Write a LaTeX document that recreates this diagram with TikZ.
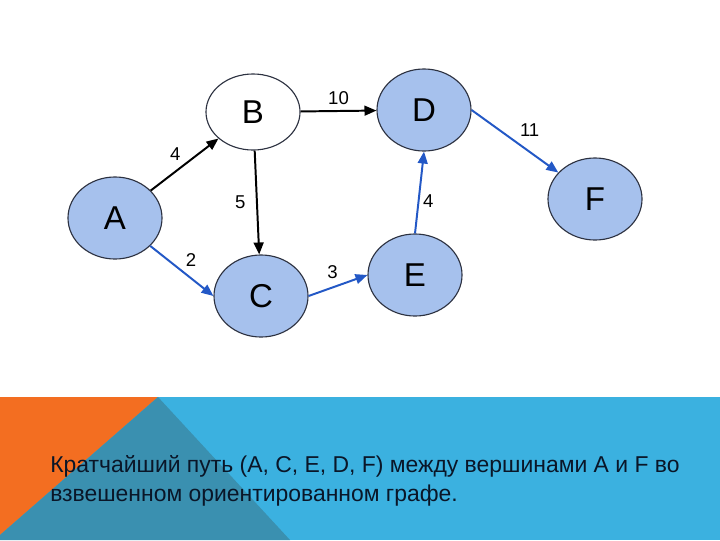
\documentclass[tikz,border=0pt]{standalone}
\usepackage{fontspec}
\setmainfont{Liberation Sans}
\usetikzlibrary{shapes.geometric,arrows.meta,positioning}
\definecolor{vfill}{RGB}{166,193,237}
\definecolor{vline}{RGB}{45,50,65}
\definecolor{pathblue}{RGB}{35,88,198}
\definecolor{bandblue}{RGB}{59,177,224}
\definecolor{bandorange}{RGB}{243,110,33}
\definecolor{bandteal}{RGB}{58,144,176}
\definecolor{captext}{RGB}{10,22,40}
\tikzset{
  vertex/.style={ellipse,draw=vline,line width=0.8pt,fill=vfill,inner sep=0pt,
    minimum width=2.35cm,minimum height=2.05cm,text=black,
    font=\fontsize{23.5}{24}\selectfont},
  edge/.style={line width=1.4pt,-{Triangle[length=8.5pt,width=7pt]}},
  shortpath/.style={edge,pathblue},
  weight/.style={text=black,font=\fontsize{13.2}{14}\selectfont,inner sep=1.5pt}
}
\begin{document}
\begin{tikzpicture}[x=0.025cm,y=-0.025cm]
\useasboundingbox (0,0) rectangle (720,540);
\fill[white] (0,0) rectangle (720,540);
\fill[bandblue] (0,397) rectangle (720,540);
\fill[bandorange] (0,397)--(158,397)--(0,535)--cycle;
\fill[bandteal] (158,397)--(290,540)--(0,540)--(0,535)--cycle;
\node[vertex] (A) at (115,218) {A};
\node[vertex,fill=white,minimum height=1.9cm] (B) at (253,112) {B};
\node[vertex] (C) at (261,296) {C};
\node[vertex] (D) at (424,110) {D};
\node[vertex] (E) at (415,275) {E};
\node[vertex] (F) at (595,199) {F};
\draw[edge](A)--(B)node[weight,midway,above left=1pt]{4};
\draw[edge](B)--(D)node[weight,midway,above=2pt]{10};
\draw[edge](B)--(C)node[weight,midway,left=6pt]{5};
\draw[shortpath](A)--(C.west)node[weight,midway,above right=1pt]{2};
\draw[shortpath](C.east)--(E.west)node[weight,midway,above left=3pt and -2pt]{3};
\draw[shortpath](E.north)--(D.south)node[weight,pos=0.4,right=1pt]{4};
\draw[shortpath](D.east)--(F)node[weight,midway,above right=2pt]{11};
\node[anchor=base west,align=left,text=captext,inner sep=0pt,
  font=\fontsize{16.3}{20.6}\selectfont] (caption) at (50,501)
  {Кратчайший путь (А, С, Е, D, F) между вершинами А и F во\\
   взвешенном ориентированном графе.};
\end{tikzpicture}
\end{document}
